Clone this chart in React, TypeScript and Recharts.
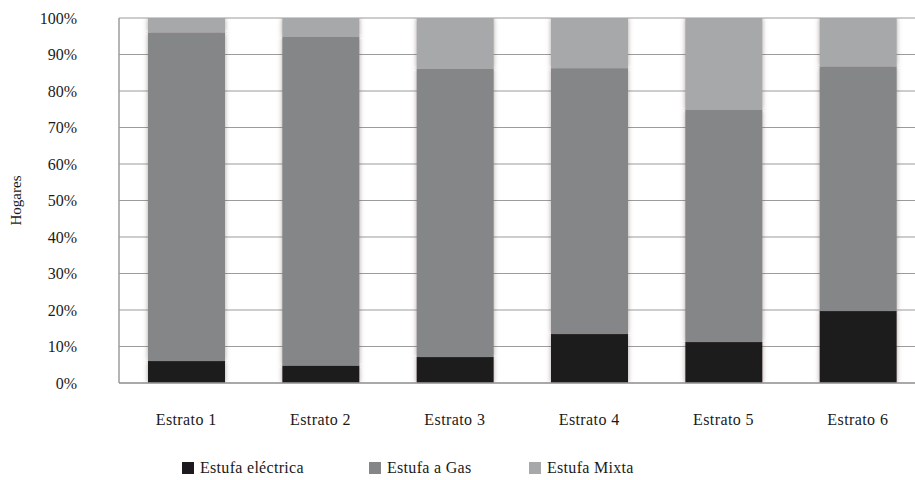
import React from 'react';
import { BarChart, Bar, XAxis, YAxis, CartesianGrid } from 'recharts';

const categories = ['Estrato 1', 'Estrato 2', 'Estrato 3', 'Estrato 4', 'Estrato 5', 'Estrato 6'];
const electrica = [6.0, 4.8, 7.1, 13.4, 11.2, 19.7];
const gas = [90.0, 90.0, 79.0, 72.8, 63.6, 67.0];
const mixta = [4.0, 5.2, 13.9, 13.8, 25.2, 13.3];
const yTicks = [0, 10, 20, 30, 40, 50, 60, 70, 80, 90, 100];

const seriesNames = ['Estufa eléctrica', 'Estufa a Gas', 'Estufa Mixta'];
const seriesKeys = ['electrica', 'gas', 'mixta'];
const seriesColors = ['#1c1a1e', '#858688', '#a7a8aa'];

const data = categories.map((c, i) => ({
  name: c,
  electrica: electrica[i],
  gas: gas[i],
  mixta: mixta[i],
}));

const FONT = '"Liberation Serif", "Times New Roman", serif';

const legendPos = [182, 369, 529];

export default function App() {
  return (
    <div style={{ position: 'absolute', left: 0, top: 0, width: 915, height: 480, overflow: 'hidden', background: '#fff' }}>
      <BarChart
        width={935}
        height={480}
        data={data}
        margin={{ top: 18, right: 10, bottom: 0, left: 0 }}
        barSize={77}
      >
        <defs>
          <filter id="barShadow" x="-20%" y="0%" width="140%" height="100%">
            <feDropShadow dx="0" dy="0" stdDeviation="2.5" floodColor="#6a5050" floodOpacity="0.55" />
          </filter>
        </defs>
        <CartesianGrid vertical={false} stroke="#9c9c9c" strokeWidth={1.2} />
        <XAxis
          dataKey="name"
          height={97}
          tickLine={false}
          axisLine={{ stroke: '#9c9c9c', strokeWidth: 1.5 }}
          tickMargin={25}
          tick={{ fill: '#1a1a1a', fontSize: 16, fontFamily: FONT, letterSpacing: 0.4 }}
        />
        <YAxis
          width={119}
          domain={[0, 100]}
          ticks={yTicks}
          interval={0}
          tickLine={false}
          axisLine={{ stroke: '#9c9c9c', strokeWidth: 1.5 }}
          tickFormatter={(v: number) => `${v}%`}
          tickMargin={36}
          tick={{ fill: '#1a1a1a', fontSize: 16, fontFamily: FONT }}
          label={{
            value: 'Hogares',
            angle: -90,
            position: 'insideLeft',
            offset: 16,
            style: { fill: '#1a1a1a', fontSize: 15, fontFamily: FONT, textAnchor: 'middle' },
          }}
        />
        {seriesKeys.map((k, i) => (
          <Bar
            key={k}
            dataKey={k}
            name={seriesNames[i]}
            stackId="a"
            fill={seriesColors[i]}
            isAnimationActive={false}
            filter="url(#barShadow)"
          />
        ))}
      </BarChart>
      {seriesNames.map((n, i) => (
        <div
          key={n}
          style={{
            position: 'absolute',
            left: legendPos[i],
            top: 459,
            display: 'flex',
            alignItems: 'center',
            fontFamily: FONT,
            fontSize: 16,
            color: '#1a1a1a',
            whiteSpace: 'nowrap',
            letterSpacing: 0.3,
          }}
        >
          <span style={{ display: 'inline-block', width: 12, height: 12, background: seriesColors[i], marginRight: 6 }} />
          <span>{n}</span>
        </div>
      ))}
    </div>
  );
}
